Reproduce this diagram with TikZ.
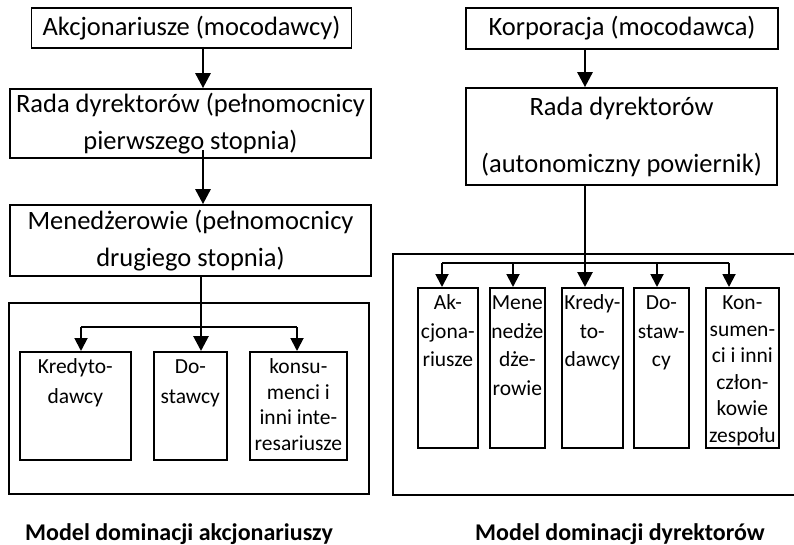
\documentclass[tikz,border=0pt]{standalone}
\usepackage{fontspec}
\setmainfont{Carlito}
\usetikzlibrary{arrows.meta}
% top-aligned text inside a fixed-size leaf box
\newcommand\leaftxt[4]{\parbox[c][#2][t]{#1}{\centering\fontsize{21.5}{#3}\selectfont\rule{0pt}{22pt}#4}}
\begin{document}
\begin{tikzpicture}[x=1pt,y=-1pt,
  box/.style={draw, line width=1.7pt, inner sep=0pt, align=center,
              font=\fontsize{26.5}{37}\selectfont},
  leaf/.style={draw, line width=1.7pt, inner sep=0pt},
  frame/.style={draw, line width=1.7pt},
  flow/.style={line width=2.8pt, -{Triangle[width=15pt,length=15pt]}},
  branch/.style={line width=1.9pt},
  twig/.style={line width=1.9pt, -{Triangle[width=13pt,length=13pt]}},
  title/.style={font=\fontsize{24}{28}\selectfont\bfseries}
]
\useasboundingbox (0,0) rectangle (794,545);

% ---------- shareholder dominance model ----------
\node[box, minimum width=320pt, minimum height=40pt] (a1) at (191.5,28)
  {Akcjonariusze (mocodawcy)};
\node[box, minimum width=361pt, minimum height=69pt] (a2) at (190.5,123.5)
  {Rada dyrektorów (pełnomocnicy\\pierwszego stopnia)};
\node[box, minimum width=361pt, minimum height=71pt] (a3) at (190.5,240.5)
  {Menedżerowie (pełnomocnicy\\drugiego stopnia)};

\draw[frame] (9,303) rectangle (369,494);

\node[leaf, anchor=north west] (lk) at (19,351)
  {\leaftxt{111pt}{108pt}{30}{Kredyto-\\dawcy}};
\node[leaf, anchor=north west] (ld) at (153,351)
  {\leaftxt{73pt}{108pt}{30}{Do-\\stawcy}};
\node[leaf, anchor=north west] (lc) at (249,351)
  {\leaftxt{97pt}{108pt}{25.5}{konsu-\\menci i\\inni inte-\\resariusze}};

\coordinate (ax) at (203,0);
\coordinate (bx) at (201,0);
\draw[flow] ([yshift=2pt]a1.south -| ax) -- (a2.north -| ax);
\draw[flow] ([yshift=9pt]a2.south -| ax) -- (a3.north -| ax);
\draw[flow] (a3.south -| bx) -- (ld.north -| bx);

\coordinate (bl) at (81,327);
\coordinate (br) at (297,327);
\draw[branch] (bl) -- (br);
\draw[twig] (bl) -- (lk.north -| bl);
\draw[twig] (br) -- (lc.north -| br);

\node[title] (tl) at (179,534) {Model dominacji akcjonariuszy};

% ---------- director dominance model ----------
\node[box, minimum width=312pt, minimum height=41pt] (r1) at (622,28.5)
  {Korporacja (mocodawca)};
\node[box, minimum width=311pt, minimum height=97pt] (r2) at (621.5,136.5)
  {Rada dyrektorów\\[20pt](autonomiczny powiernik)};

\draw[frame] (393,254) rectangle (805,495);

\node[leaf, anchor=north west] (m1) at (417,287)
  {\leaftxt{60pt}{160pt}{28.5}{Ak-\\cjona-\\riusze}};
\node[leaf, anchor=north west] (m2) at (489,287)
  {\leaftxt{55pt}{160pt}{28.5}{Mene\\nedże\\dże-\\rowie}};
\node[leaf, anchor=north west] (m3) at (561,287)
  {\leaftxt{61pt}{160pt}{28.5}{Kredy-\\to-\\dawcy}};
\node[leaf, anchor=north west] (m4) at (633,287)
  {\leaftxt{55pt}{160pt}{28.5}{Do-\\staw-\\cy}};
\node[leaf, anchor=north west] (m5) at (705,287)
  {\leaftxt{73pt}{160pt}{26.5}{Kon-\\sumen-\\ci i inni\\człon-\\kowie\\zespołu}};

\coordinate (cx) at (585,0);
\draw[flow] (r1.south -| cx) -- (r2.north -| cx);
\draw[flow] (r2.south -| cx) -- (m3.north -| cx);

\coordinate (c1) at (442,263);
\coordinate (c2) at (513,263);
\coordinate (c4) at (657,263);
\coordinate (c5) at (729,263);
\draw[branch] (c1) -- (c5);
\draw[twig] (c1) -- (m1.north -| c1);
\draw[twig] (c2) -- (m2.north -| c2);
\draw[twig] (c4) -- (m4.north -| c4);
\draw[twig] (c5) -- (m5.north -| c5);

\node[title] (tr) at (620,534) {Model dominacji dyrektorów};
\end{tikzpicture}
\end{document}
